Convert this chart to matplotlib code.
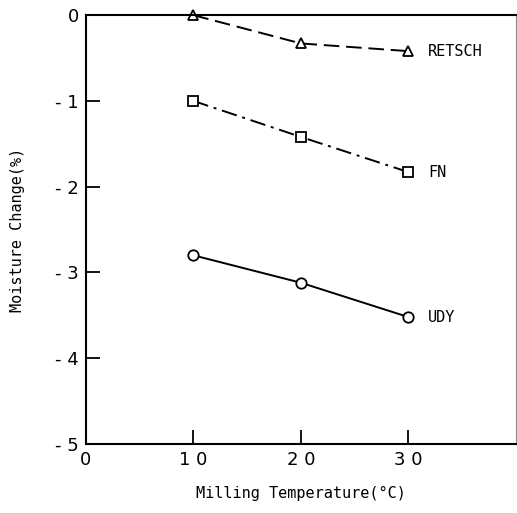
import matplotlib
matplotlib.use("Agg")
import matplotlib.pyplot as plt

# dados
temperatura = [10, 20, 30]
retsch = [0.0, -0.33, -0.42]
fn = [-1.0, -1.42, -1.83]
udy = [-2.8, -3.12, -3.52]

x_ticks = [0, 10, 20, 30]
x_tick_labels = ["0", "1 0", "2 0", "3 0"]
y_ticks = [0, -1, -2, -3, -4, -5]
y_tick_labels = ["0", "- 1", "- 2", "- 3", "- 4", "- 5"]

fig = plt.figure(figsize=(5.17, 5.13), dpi=100)
ax = fig.add_axes([0.166, 0.1345, 0.832, 0.836])

mk = dict(markersize=7.5, markerfacecolor="white", markeredgecolor="black",
          markeredgewidth=1.3, color="black", linewidth=1.4, clip_on=False)
ax.plot(temperatura, retsch, marker="^", linestyle=(0, (8, 3.5)), **mk)
ax.plot(temperatura, fn, marker="s", linestyle=(0, (8, 3, 1.5, 3)), **mk)
ax.plot(temperatura, udy, marker="o", linestyle="-", **mk)

fonte = "DejaVu Sans Mono"
ax.text(31.8, retsch[-1], "RETSCH", va="center", ha="left", fontsize=11, family=fonte)
ax.text(31.8, fn[-1], "FN", va="center", ha="left", fontsize=11, family=fonte)
ax.text(31.8, udy[-1], "UDY", va="center", ha="left", fontsize=11, family=fonte)

ax.set_xlim(0, 40)
ax.set_ylim(-5, 0)
ax.set_xticks(x_ticks)
ax.set_xticklabels(x_tick_labels, fontsize=13)
ax.set_yticks(y_ticks)
ax.set_yticklabels(y_tick_labels, fontsize=13)
ax.tick_params(direction="in", length=10, width=1.3, pad=5)

for s in ["left", "bottom", "top"]:
    ax.spines[s].set_linewidth(1.5)
ax.spines["right"].set_linewidth(0.8)
ax.spines["right"].set_color("#888888")

ax.set_xlabel("Milling Temperature(°C)", fontsize=11, family=fonte, labelpad=12)
ax.set_ylabel("Moisture Change(%)", fontsize=11, family=fonte, labelpad=22)

fig.savefig("out.png", dpi=100)
